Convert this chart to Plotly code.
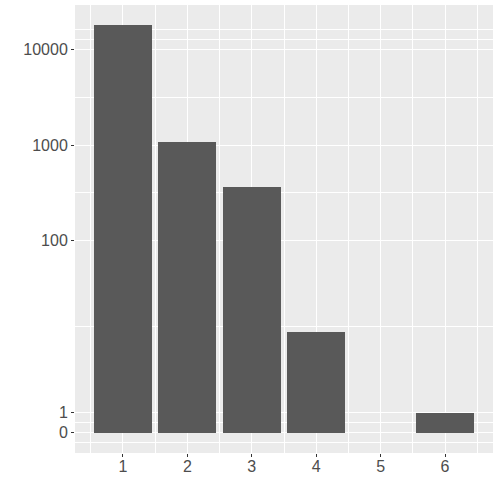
import numpy as np
import plotly.graph_objects as go

# bar heights (pseudo-log y scale)
groups = [1, 2, 3, 4, 5, 6]
counts = [17700, 1080, 365, 11, 0, 1]
y_breaks = [0, 1, 100, 1000, 10000]
y_labels = ["0", "1", "100", "1000", "10000"]


def pseudo_log(v):
    # same as scales::pseudo_log_trans(sigma = 1, base = 10) up to a constant factor
    return np.arcsinh(np.asarray(v, dtype=float) / 2)


t_counts = pseudo_log(counts)
t_breaks = pseudo_log(y_breaks)

# ggplot-style minor breaks: midpoints between major breaks, extended past the ends
step = t_breaks[1] - t_breaks[0]
ext = np.concatenate([[t_breaks[0] - step], t_breaks, [t_breaks[-1] + step]])
y_minor = list((ext[:-1] + ext[1:]) / 2) + [ext[-1]]
x_minor = [g - 0.5 for g in groups] + [groups[-1] + 0.5]

top = t_counts.max()
y_range = [-0.05 * top, 1.05 * top]

fig = go.Figure()
fig.add_bar(
    x=groups,
    y=t_counts,
    width=0.9,
    marker=dict(color="#595959", line=dict(width=0)),
    hoverinfo="skip",
)

axis_font = dict(family="Liberation Sans, Arial, sans-serif", size=16, color="#4D4D4D")

fig.update_layout(
    width=498,
    height=498,
    margin=dict(l=75, r=5, t=5, b=45),
    paper_bgcolor="white",
    plot_bgcolor="#EBEBEB",
    showlegend=False,
    bargap=0,
    xaxis=dict(
        range=[0.255, 6.745],
        tickmode="array",
        tickvals=groups,
        ticktext=[str(g) for g in groups],
        ticks="outside",
        ticklen=3,
        tickwidth=1,
        tickcolor="#333333",
        tickfont=axis_font,
        ticklabelstandoff=-4,
        showgrid=True,
        gridcolor="white",
        gridwidth=1.3,
        zeroline=False,
        showline=False,
        automargin=False,
        minor=dict(tickmode="array", tickvals=x_minor, showgrid=True,
                   gridcolor="white", gridwidth=0.6, ticks=""),
    ),
    yaxis=dict(
        range=y_range,
        tickmode="array",
        tickvals=list(t_breaks),
        ticktext=y_labels,
        ticks="outside",
        ticklen=3,
        tickwidth=1,
        tickcolor="#333333",
        tickfont=axis_font,
        showgrid=True,
        gridcolor="white",
        gridwidth=1.3,
        zeroline=False,
        showline=False,
        automargin=False,
        minor=dict(tickmode="array", tickvals=y_minor, showgrid=True,
                   gridcolor="white", gridwidth=0.6, ticks=""),
    ),
)

# the page body has a default 8px margin; drop it so the plot sits at the corner
fig.write_html(
    "out.html",
    config={"displayModeBar": False},
    post_script="document.body.style.margin = '0';",
)
